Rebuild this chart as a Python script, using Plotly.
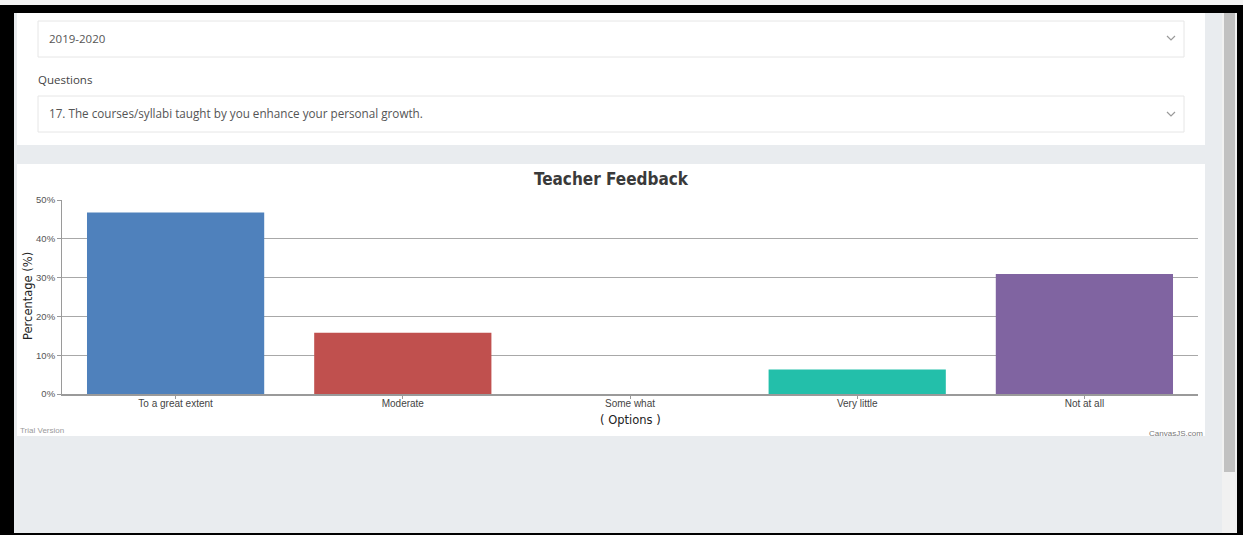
import plotly.graph_objects as go

# Feedback data
categories = ["To a great extent", "Moderate", "Some what", "Very little", "Not at all"]
percentages = [46.8, 15.8, 0, 6.3, 30.9]
bar_colors = ["#4F81BC", "#C0504E", "#9BBB58", "#23BFAA", "#8064A1"]
y_ticks = [0, 10, 20, 30, 40, 50]
y_tick_labels = ["0%", "10%", "20%", "30%", "40%", "50%"]

chart_title = "Teacher Feedback"
session_label = "2019-2020"
questions_label = "Questions"
question_text = "17. The courses/syllabi taught by you enhance your personal growth."

# Page geometry (pixels) and plot-area bounds
W, H = 1243, 535
L, R, T, B = 62, 1198, 200, 394


def px(x):
    return (x - L) / (R - L)


def py(y):
    return (B - y) / (B - T)


def rect(x0, y0, x1, y1, fill, line=None):
    return dict(type="rect", xref="paper", yref="paper", layer="below",
                x0=px(x0), x1=px(x1), y0=py(y1), y1=py(y0),
                fillcolor=fill,
                line=dict(color=line or fill, width=1 if line else 0))


def chevron(cx, cy):
    pts = [(cx - 4, cy - 2), (cx, cy + 2), (cx + 4, cy - 2)]
    path = "M " + " L ".join(f"{px(a)},{py(b)}" for a, b in pts)
    return dict(type="path", xref="paper", yref="paper", path=path,
                line=dict(color="#9a9a9a", width=1.2))


def label(x, y, text, size, color, anchor="left", family="Open Sans", angle=0):
    return dict(xref="paper", yref="paper", x=px(x), y=py(y), text=text,
                showarrow=False, xanchor=anchor, yanchor="middle",
                textangle=angle, borderpad=0,
                font=dict(size=size, color=color, family=family))


fig = go.Figure(
    go.Bar(
        x=categories,
        y=percentages,
        marker=dict(color=bar_colors, line=dict(width=0)),
        hovertemplate="%{x}: %{y}%<extra></extra>",
    )
)

shapes = [
    rect(0, 0, W, 5, "#f4f4f4"),
    rect(14, 13, 1222, 533, "#e9ecef"),
    rect(1222, 13, 1237, 533, "#f1f1f1"),
    rect(1224, 13, 1235, 472, "#c1c1c1"),
    # filter card
    rect(17, 13, 1205, 145, "#ffffff"),
    rect(38, 21, 1184, 57, "#ffffff", "#e6e6e6"),
    rect(38, 96, 1184, 132, "#ffffff", "#e6e6e6"),
    # chart card
    rect(17, 164, 1205, 436, "#ffffff"),
    chevron(1171, 38),
    chevron(1171, 114),
]

annotations = [
    label(48, 38, session_label, 11.5, "#555555"),
    label(37, 79, questions_label, 11.5, "#444444"),
    label(48, 113, question_text, 11.7, "#555555"),
    label(611, 179, "<b>" + chart_title + "</b>", 17, "#3a3a3a", anchor="center",
          family="DejaVu Sans Condensed, Liberation Sans Narrow, sans-serif"),
    label(28, 296, "Percentage (%)", 11.5, "#222222", anchor="center",
          family="DejaVu Sans", angle=-90),
    label(630, 420, "( Options )", 11.5, "#222222", anchor="center",
          family="DejaVu Sans"),
    label(19, 430, "Trial Version", 8, "#9a9a9a",
          family="Liberation Sans Narrow, sans-serif"),
    label(1204, 433, "CanvasJS.com", 8, "#777777", anchor="right",
          family="Liberation Sans Narrow, sans-serif"),
]

fig.update_layout(
    width=W,
    height=H,
    margin=dict(l=L, r=W - R, t=T, b=H - B, pad=0),
    paper_bgcolor="#000000",
    plot_bgcolor="rgba(0,0,0,0)",
    showlegend=False,
    bargap=0.22,
    shapes=shapes,
    annotations=annotations,
    font=dict(family="Liberation Sans, sans-serif", size=10, color="#444444"),
)

fig.update_xaxes(
    showgrid=False,
    showline=True,
    linecolor="#9a9a9a",
    linewidth=1.5,
    ticks="outside",
    ticklen=3,
    tickcolor="#9a9a9a",
    ticklabelstandoff=-4,
    tickfont=dict(size=10, color="#444444", family="Liberation Sans, sans-serif"),
    fixedrange=True,
)

fig.update_yaxes(
    range=[0, 50],
    tickvals=y_ticks,
    ticktext=y_tick_labels,
    showgrid=True,
    gridcolor="#a8a8a8",
    gridwidth=1,
    zeroline=False,
    showline=True,
    linecolor="#9a9a9a",
    linewidth=1,
    ticks="outside",
    ticklen=4,
    tickcolor="#9a9a9a",
    tickfont=dict(size=9.5, color="#555555", family="Liberation Sans Narrow, sans-serif"),
    fixedrange=True,
)

fig.write_html("out.html", config=dict(displayModeBar=False))
